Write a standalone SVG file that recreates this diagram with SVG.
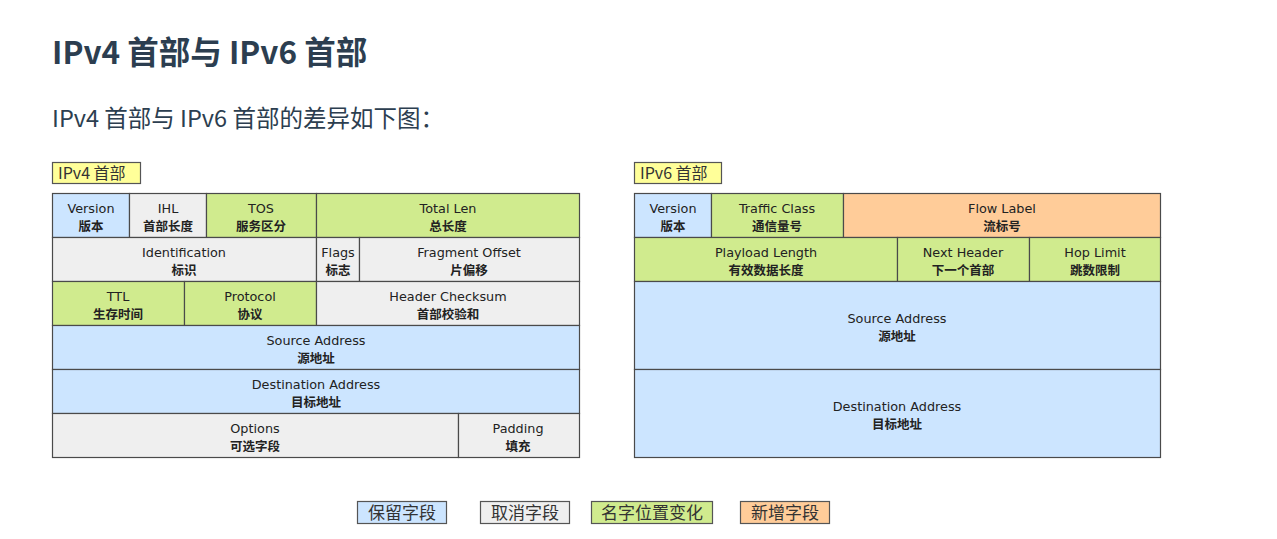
<svg xmlns="http://www.w3.org/2000/svg" width="1277" height="539" viewBox="0 0 1277 539">
<style>
.cell{stroke:#4a4a4a;stroke-width:1.2}
.b{fill:#cce5ff}.g{fill:#efefef}.gr{fill:#d0eb8e}.o{fill:#ffcc99}.y{fill:#ffff99}
.en{font-family:"DejaVu Sans","Liberation Sans",sans-serif;font-size:12.8px;fill:#222;text-anchor:middle}
.zh{font-family:"Noto Sans CJK SC",sans-serif;font-size:12.5px;font-weight:bold;fill:#222;text-anchor:middle}
.lab{font-family:"Noto Sans CJK SC",sans-serif;font-size:16px;fill:#333}
.leg{font-family:"Noto Sans CJK SC",sans-serif;font-size:17px;fill:#333;text-anchor:middle}
.box{stroke:#555;stroke-width:1.2}
</style>
<rect width="1277" height="539" fill="#ffffff"/>
<text x="52" y="64" font-family="'Noto Sans CJK SC',sans-serif" font-size="31.5" font-weight="bold" fill="#2c3e50">IPv4 首部与 IPv6 首部</text>
<text x="52" y="127" font-family="'Noto Sans CJK SC',sans-serif" font-size="23.5" fill="#2c3e50">IPv4 首部与 IPv6 首部的差异如下图：</text>

<g id="ipv4-label"><rect class="box y" x="52.5" y="162.5" width="88" height="21"/><text class="lab" x="58" y="179">IPv4 首部</text></g>
<g id="ipv6-label"><rect class="box y" x="634.5" y="162.5" width="87" height="21"/><text class="lab" x="640" y="179">IPv6 首部</text></g>

<g id="ipv4-version"><rect class="cell b" x="52.5" y="193.5" width="77" height="44"/><text class="en" x="91" y="213">Version</text><text class="zh" x="91" y="231">版本</text></g>
<g id="ipv4-ihl"><rect class="cell g" x="129.5" y="193.5" width="77" height="44"/><text class="en" x="168" y="213">IHL</text><text class="zh" x="168" y="231">首部长度</text></g>
<g id="ipv4-tos"><rect class="cell gr" x="206.5" y="193.5" width="110" height="44"/><text class="en" x="261" y="213">TOS</text><text class="zh" x="261" y="231">服务区分</text></g>
<g id="ipv4-totallen"><rect class="cell gr" x="316.5" y="193.5" width="263" height="44"/><text class="en" x="448" y="213">Total Len</text><text class="zh" x="448" y="231">总长度</text></g>

<g id="ipv4-identification"><rect class="cell g" x="52.5" y="237.5" width="264" height="44"/><text class="en" x="184" y="257">Identification</text><text class="zh" x="184" y="275">标识</text></g>
<g id="ipv4-flags"><rect class="cell g" x="316.5" y="237.5" width="43" height="44"/><text class="en" x="338" y="257">Flags</text><text class="zh" x="338" y="275">标志</text></g>
<g id="ipv4-fragoffset"><rect class="cell g" x="359.5" y="237.5" width="220" height="44"/><text class="en" x="469" y="257">Fragment Offset</text><text class="zh" x="469" y="275">片偏移</text></g>

<g id="ipv4-ttl"><rect class="cell gr" x="52.5" y="281.5" width="132" height="44"/><text class="en" x="118" y="301">TTL</text><text class="zh" x="118" y="319">生存时间</text></g>
<g id="ipv4-protocol"><rect class="cell gr" x="184.5" y="281.5" width="132" height="44"/><text class="en" x="250" y="301">Protocol</text><text class="zh" x="250" y="319">协议</text></g>
<g id="ipv4-checksum"><rect class="cell g" x="316.5" y="281.5" width="263" height="44"/><text class="en" x="448" y="301">Header Checksum</text><text class="zh" x="448" y="319">首部校验和</text></g>

<g id="ipv4-source"><rect class="cell b" x="52.5" y="325.5" width="527" height="44"/><text class="en" x="316" y="345">Source Address</text><text class="zh" x="316" y="363">源地址</text></g>
<g id="ipv4-destination"><rect class="cell b" x="52.5" y="369.5" width="527" height="44"/><text class="en" x="316" y="389">Destination Address</text><text class="zh" x="316" y="407">目标地址</text></g>

<g id="ipv4-options"><rect class="cell g" x="52.5" y="413.5" width="406" height="44"/><text class="en" x="255" y="433">Options</text><text class="zh" x="255" y="451">可选字段</text></g>
<g id="ipv4-padding"><rect class="cell g" x="458.5" y="413.5" width="121" height="44"/><text class="en" x="518" y="433">Padding</text><text class="zh" x="518" y="451">填充</text></g>

<g id="ipv6-version"><rect class="cell b" x="634.5" y="193.5" width="77" height="44"/><text class="en" x="673" y="213">Version</text><text class="zh" x="673" y="231">版本</text></g>
<g id="ipv6-trafficclass"><rect class="cell gr" x="711.5" y="193.5" width="132" height="44"/><text class="en" x="777" y="213">Traffic Class</text><text class="zh" x="777" y="231">通信量号</text></g>
<g id="ipv6-flowlabel"><rect class="cell o" x="843.5" y="193.5" width="317" height="44"/><text class="en" x="1002" y="213">Flow Label</text><text class="zh" x="1002" y="231">流标号</text></g>

<g id="ipv6-payloadlength"><rect class="cell gr" x="634.5" y="237.5" width="263" height="44"/><text class="en" x="766" y="257">Playload Length</text><text class="zh" x="766" y="275">有效数据长度</text></g>
<g id="ipv6-nextheader"><rect class="cell gr" x="897.5" y="237.5" width="132" height="44"/><text class="en" x="963" y="257">Next Header</text><text class="zh" x="963" y="275">下一个首部</text></g>
<g id="ipv6-hoplimit"><rect class="cell gr" x="1029.5" y="237.5" width="131" height="44"/><text class="en" x="1095" y="257">Hop Limit</text><text class="zh" x="1095" y="275">跳数限制</text></g>

<g id="ipv6-source"><rect class="cell b" x="634.5" y="281.5" width="526" height="88"/><text class="en" x="897" y="323">Source Address</text><text class="zh" x="897" y="341">源地址</text></g>
<g id="ipv6-destination"><rect class="cell b" x="634.5" y="369.5" width="526" height="88"/><text class="en" x="897" y="411">Destination Address</text><text class="zh" x="897" y="429">目标地址</text></g>

<g id="connectors"></g>

<g id="legend-keep"><rect class="box b" x="357.5" y="501.5" width="89" height="22"/><text class="leg" x="402" y="519">保留字段</text></g>
<g id="legend-removed"><rect class="box g" x="480.5" y="501.5" width="89" height="22"/><text class="leg" x="525" y="519">取消字段</text></g>
<g id="legend-moved"><rect class="box gr" x="591.5" y="501.5" width="121" height="22"/><text class="leg" x="652" y="519">名字位置变化</text></g>
<g id="legend-new"><rect class="box o" x="740.5" y="501.5" width="89" height="22"/><text class="leg" x="785" y="519">新增字段</text></g>
</svg>
